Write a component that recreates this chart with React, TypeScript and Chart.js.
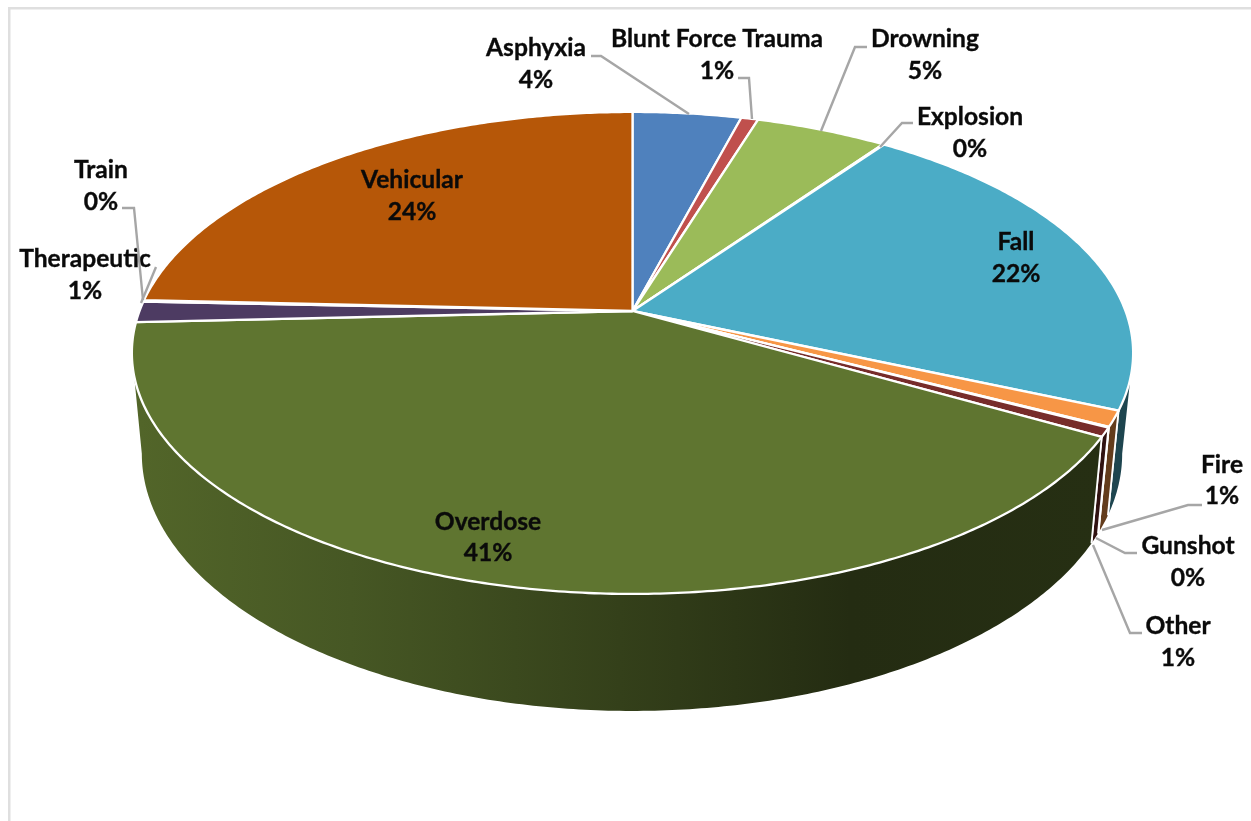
import React, { useEffect, useRef } from "react";
import { Chart, registerables } from "chart.js";

Chart.register(...registerables);

const categories = ["Asphyxia", "Blunt Force Trauma", "Drowning", "Explosion", "Fall", "Fire", "Gunshot", "Other", "Overdose", "Therapeutic", "Train", "Vehicular"];
const shares = [4.15, 0.65, 5.05, 0.05, 21.6, 1.05, 0.05, 0.6, 41.05, 1.4, 0.1, 24.25];
const colors = ["#4F81BD", "#C0504D", "#9BBB59", "#8064A2", "#4BACC6", "#F79646", "#2C4D75", "#772C2A", "#5F7530", "#4D3B62", "#276A7C", "#B65708"];

// label layout: centre x, first line y, second line y, leader polyline
const labelLayout: Record<string, { x: number; y1: number; y2: number; leader?: number[][] }> = {
  Asphyxia: { x: 536, y1: 48, y2: 80, leader: [[591, 56], [601, 56], [689, 114]] },
  "Blunt Force Trauma": { x: 717, y1: 39, y2: 71, leader: [[738, 78], [749, 78], [752, 119]] },
  Drowning: { x: 925, y1: 39, y2: 71, leader: [[867, 47], [855, 47], [821, 131]] },
  Explosion: { x: 970, y1: 117, y2: 149, leader: [[913, 123], [902, 123], [880, 147]] },
  Fall: { x: 1016, y1: 242, y2: 274 },
  Fire: { x: 1222, y1: 465, y2: 496, leader: [[1202, 505], [1188, 505], [1102, 530]] },
  Gunshot: { x: 1188, y1: 546, y2: 578, leader: [[1137, 553], [1125, 553], [1096, 538]] },
  Other: { x: 1178, y1: 626, y2: 658, leader: [[1142, 633], [1130, 633], [1093, 545]] },
  Overdose: { x: 488, y1: 522, y2: 553 },
  Therapeutic: { x: 85, y1: 259, y2: 291, leader: [[156, 267], [141, 303]] },
  Train: { x: 101, y1: 170, y2: 202, leader: [[122, 208], [134, 208], [143, 300]] },
  Vehicular: { x: 412, y1: 180, y2: 212 },
};

// perspective rims of the extruded pie
const topRim = { cx: 632.5, cy: 311, a: 493, b: 233.7, k: 0.174 };
const lowRim = { cx: 632, cy: 409, a: 482.7, b: 249.4, k: 0.174 };
const project = (r: typeof topRim, t: number): [number, number] => {
  const u = Math.sin(t);
  const v = -Math.cos(t);
  const w = 1 - r.k * v;
  return [r.cx + (r.a * u) / w, r.cy + (r.b * v) / w];
};
const rad = (d: number) => (d * Math.PI) / 180;
const FRONT_FROM = rad(100);
const FRONT_TO = rad(260);

const hexRgb = (h: string) => [1, 3, 5].map((i) => parseInt(h.slice(i, i + 2), 16));
const shadeStops: [number, number][] = [[0, 0.86], [0.22, 0.74], [0.5, 0.55], [0.74, 0.38], [1, 0.4]];

const trace = (ctx: CanvasRenderingContext2D, r: typeof topRim, from: number, to: number, first: boolean) => {
  const n = Math.max(2, Math.ceil(Math.abs(to - from) / 0.01));
  for (let i = 0; i <= n; i++) {
    const p = project(r, from + ((to - from) * i) / n);
    if (i === 0 && first) ctx.moveTo(p[0], p[1]);
    else ctx.lineTo(p[0], p[1]);
  }
};

const pie3d = {
  id: "pie3d",
  beforeDraw(chart: any) {
    const { ctx, width, height } = chart;
    ctx.save();
    ctx.fillStyle = "#fff";
    ctx.fillRect(0, 0, width, height);
    ctx.fillStyle = "#dfdfdf";
    ctx.fillRect(8, 7, width - 8, 2.5);
    ctx.fillRect(8, 7, 2.5, height - 7);
    ctx.restore();
  },
  beforeDatasetsDraw(chart: any) {
    const { ctx } = chart;
    const arcs = chart.getDatasetMeta(0).data;
    const angle = (a: any) => [a.startAngle + Math.PI / 2, a.endAngle + Math.PI / 2];
    ctx.save();
    arcs.forEach((arc: any, i: number) => {
      const [s, e] = angle(arc);
      const from = Math.max(s, FRONT_FROM);
      const to = Math.min(e, FRONT_TO);
      if (to <= from) return;
      const rgb = hexRgb(colors[i]);
      const g = ctx.createLinearGradient(140, 0, 1100, 0);
      shadeStops.forEach(([p, f]) => g.addColorStop(p, `rgb(${rgb.map((c) => Math.round(c * f)).join(",")})`));
      ctx.beginPath();
      trace(ctx, topRim, from, to, true);
      trace(ctx, lowRim, to, from, false);
      ctx.closePath();
      ctx.fillStyle = g;
      ctx.fill();
      ctx.strokeStyle = "#fff";
      ctx.lineWidth = 1.8;
      [s, e].forEach((t) => {
        if (t < FRONT_FROM || t > FRONT_TO) return;
        const a = project(topRim, t);
        const b = project(lowRim, t);
        ctx.beginPath();
        ctx.moveTo(a[0], a[1]);
        ctx.lineTo(b[0], b[1]);
        ctx.stroke();
      });
    });
    arcs.forEach((arc: any, i: number) => {
      const [s, e] = angle(arc);
      ctx.beginPath();
      ctx.moveTo(topRim.cx, topRim.cy);
      trace(ctx, topRim, s, e, false);
      ctx.closePath();
      ctx.fillStyle = colors[i];
      ctx.fill();
      ctx.strokeStyle = "#fff";
      ctx.lineWidth = 2.3;
      ctx.lineJoin = "round";
      ctx.stroke();
    });
    ctx.restore();
    return false;
  },
  afterDraw(chart: any) {
    const { ctx } = chart;
    const total = shares.reduce((a, b) => a + b, 0);
    ctx.save();
    ctx.font = "bold 24.6px Lato";
    ctx.textAlign = "center";
    ctx.textBaseline = "middle";
    ctx.fillStyle = "#0a0a0a";
    categories.forEach((name, i) => {
      const l = labelLayout[name];
      if (l.leader) {
        ctx.strokeStyle = "#A6A6A6";
        ctx.lineWidth = 2.4;
        ctx.beginPath();
        l.leader.forEach((p, j) => (j ? ctx.lineTo(p[0], p[1]) : ctx.moveTo(p[0], p[1])));
        ctx.stroke();
      }
      const pct = `${Math.round((shares[i] / total) * 100)}%`;
      ctx.strokeStyle = "#0a0a0a";
      ctx.lineWidth = 0.35;
      ctx.strokeText(name, l.x, l.y1);
      ctx.fillText(name, l.x, l.y1);
      ctx.strokeText(pct, l.x, l.y2);
      ctx.fillText(pct, l.x, l.y2);
    });
    ctx.restore();
  },
};

export default function App() {
  const ref = useRef<HTMLCanvasElement>(null);
  useEffect(() => {
    const chart = new Chart(ref.current!, {
      type: "pie",
      data: { labels: categories, datasets: [{ data: shares, backgroundColor: colors, borderColor: "#fff", borderWidth: 2 }] },
      options: {
        responsive: false,
        animation: false,
        plugins: { legend: { display: false }, tooltip: { enabled: false } },
      },
      plugins: [pie3d],
    } as any);
    return () => chart.destroy();
  }, []);
  return <canvas ref={ref} width={1251} height={821} style={{ position: "fixed", left: 0, top: 0, display: "block" }} />;
}
